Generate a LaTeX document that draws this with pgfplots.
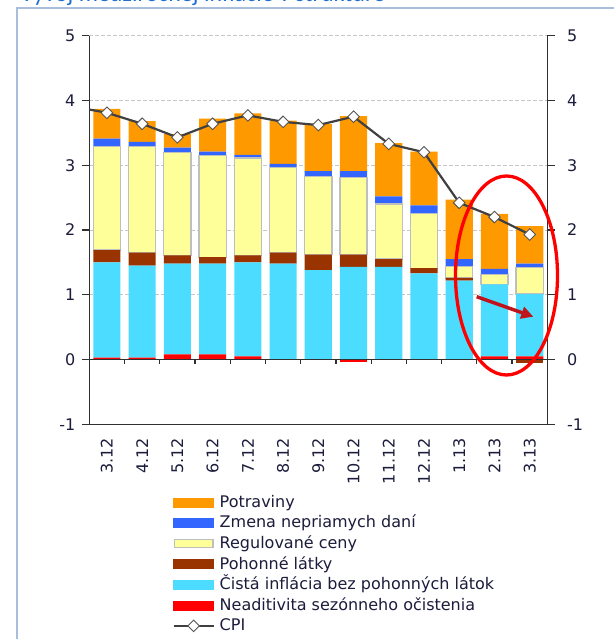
\documentclass[border=0pt]{standalone}
\usepackage{pgfplots}
\pgfplotsset{compat=1.18}
\usepackage{fontspec}
\setmainfont{DejaVu Sans}
\newfontfamily\titlefont{Carlito}
\usetikzlibrary{arrows.meta}
\definecolor{orangec}{HTML}{FF9900}
\definecolor{bluec}{HTML}{3366FF}
\definecolor{yellowc}{HTML}{FFFF99}
\definecolor{brownc}{HTML}{993300}
\definecolor{cyanc}{HTML}{4CDCFF}
\definecolor{redc}{HTML}{FF0000}
\definecolor{axc}{HTML}{303030}
\definecolor{txtc}{HTML}{1C1C3C}
\definecolor{cpic}{HTML}{404040}
\definecolor{markc}{HTML}{555555}
\definecolor{framec}{HTML}{A8BEDC}
\definecolor{titlec}{HTML}{1F6FD0}
\definecolor{arrc}{HTML}{C0141C}
\definecolor{yedge}{HTML}{BFBFBF}
\pgfplotsset{
 mybase/.style={
  at={(89.3bp,214.7bp)}, anchor=south west,
  scale only axis, width=458bp, height=388.6bp,
  xmin=-0.5, xmax=12.5, ymin=-1, ymax=5,
  ytick={-1,0,...,5}, yticklabels={-1,0,1,2,3,4,5},
  tick align=outside, major tick length=7.7bp,
  axis line style={draw=axc, line width=1.3bp},
  ytick style={draw=axc, line width=1.3bp},
  tick label style={font=\fontsize{16bp}{19bp}\selectfont, text=txtc},
  clip=false,
 }
}
\begin{document}
\begin{tikzpicture}
\useasboundingbox (0,0) rectangle (614bp,639bp);
\fill[white] (0,0) rectangle (614bp,639bp);
\draw[framec, line width=1.2bp] (17bp,0) -- (17bp,631bp) -- (614bp,631bp);
\node[anchor=base west, inner sep=0pt, text=titlec, font=\titlefont\fontsize{24bp}{28bp}\selectfont] at (20bp,637bp) {Vývoj medziročnej inflácie v štruktúre};

\begin{axis}[mybase,
  ybar stacked, bar width=0.77,
  axis x line*=bottom, axis y line*=left,
  xtick={0,...,12},
  xticklabels={3.12,4.12,5.12,6.12,7.12,8.12,9.12,10.12,11.12,12.12,1.13,2.13,3.13},
  xtick style={draw=none},
  xticklabel style={rotate=90, anchor=east, inner sep=0pt},
  xticklabel shift=6bp,
  yticklabel style={anchor=east, inner sep=0pt},
  yticklabel shift=6bp,
  ymajorgrids, grid style={dash pattern=on 3.5bp off 2.5bp, gray!45, line width=0.8bp},
]
% Neaditivita sezonneho ocistenia (positive part)
\addplot[fill=redc, draw=none] coordinates {(0,0.03) (1,0.03) (2,0.08) (3,0.08) (4,0.05) (5,0) (6,0) (7,0) (8,0) (9,0) (10,0) (11,0.05) (12,0.05)};
% Cista inflacia bez pohonnych latok
\addplot[fill=cyanc, draw=none] coordinates {(0,1.47) (1,1.42) (2,1.40) (3,1.40) (4,1.45) (5,1.48) (6,1.38) (7,1.43) (8,1.43) (9,1.33) (10,1.22) (11,1.11) (12,0.96)};
% Pohonne latky (positive part)
\addplot[fill=brownc, draw=none] coordinates {(0,0.19) (1,0.20) (2,0.13) (3,0.10) (4,0.11) (5,0.17) (6,0.24) (7,0.19) (8,0.12) (9,0.08) (10,0.04) (11,0) (12,0)};
% Regulovane ceny
\addplot[fill=yellowc, draw=yedge, line width=1.3bp] coordinates {(0,1.60) (1,1.64) (2,1.59) (3,1.57) (4,1.50) (5,1.31) (6,1.21) (7,1.19) (8,0.85) (9,0.84) (10,0.18) (11,0.15) (12,0.41)};
% Zmena nepriamych dani
\addplot[fill=bluec, draw=none] coordinates {(0,0.12) (1,0.07) (2,0.07) (3,0.06) (4,0.05) (5,0.06) (6,0.08) (7,0.10) (8,0.12) (9,0.13) (10,0.11) (11,0.09) (12,0.06)};
% Potraviny
\addplot[fill=orangec, draw=none] coordinates {(0,0.46) (1,0.32) (2,0.21) (3,0.51) (4,0.64) (5,0.67) (6,0.73) (7,0.85) (8,0.82) (9,0.83) (10,0.92) (11,0.85) (12,0.58)};
\end{axis}

\begin{axis}[mybase,
  axis x line=none, axis y line*=right,
  yticklabel style={anchor=west, inner sep=0pt},
  yticklabel shift=12bp,
  legend cell align=left,
  legend style={draw=none, fill=none, inner sep=0pt, outer sep=0pt,
    at={(0.1817,-0.1742)}, anchor=north west,
    column sep=5bp, row sep=0pt,
    font=\fontsize{16bp}{19bp}\selectfont, text=txtc,
    nodes={inner sep=0pt, text height=15.3bp, text depth=5.3bp}},
]
% negative parts
\addplot[forget plot, ybar, bar width=0.77, bar shift=0pt, fill=redc, draw=none] coordinates {(7,-0.04)};
\addplot[forget plot, ybar, bar width=0.77, bar shift=0pt, fill=brownc, draw=none] coordinates {(12,-0.06)};
% zero line with ticks
\draw[axc, line width=1.3bp] (axis cs:-0.5,0) -- (axis cs:12.5,0);
\pgfplotsinvokeforeach{-0.5,0.5,...,12.5}{\draw[axc, line width=1.3bp] (axis cs:#1,0) -- ([yshift=-4.5bp]axis cs:#1,0);}
% CPI
\addplot[forget plot, cpic, line width=2.2bp, mark=none] coordinates {(-0.5,3.86) (0,3.81) (1,3.64) (2,3.43) (3,3.64) (4,3.77) (5,3.67) (6,3.62) (7,3.75) (8,3.33) (9,3.20) (10,2.42) (11,2.20) (12,1.93)};
\addplot[forget plot, only marks, mark=square*, mark size=4.1bp, mark options={rotate=45, fill=white, draw=markc, line width=0.9bp}] coordinates {(0,3.81) (1,3.64) (2,3.43) (3,3.64) (4,3.77) (5,3.67) (6,3.62) (7,3.75) (8,3.33) (9,3.20) (10,2.42) (11,2.20) (12,1.93)};
% legend
\addlegendimage{legend image code/.code={\fill[orangec] (0bp,-4.5bp) rectangle (40bp,4.5bp);}}
\addlegendentry{Potraviny}
\addlegendimage{legend image code/.code={\fill[bluec] (0bp,-4.5bp) rectangle (40bp,4.5bp);}}
\addlegendentry{Zmena nepriamych daní}
\addlegendimage{legend image code/.code={\filldraw[fill=yellowc, draw=yedge, line width=1.2bp] (0.6bp,-3.9bp) rectangle (39.4bp,3.9bp);}}
\addlegendentry{Regulované ceny}
\addlegendimage{legend image code/.code={\fill[brownc] (0bp,-4.5bp) rectangle (40bp,4.5bp);}}
\addlegendentry{Pohonné látky}
\addlegendimage{legend image code/.code={\fill[cyanc] (0bp,-4.5bp) rectangle (40bp,4.5bp);}}
\addlegendentry{Čistá inflácia bez pohonných látok}
\addlegendimage{legend image code/.code={\fill[redc] (0bp,-4.5bp) rectangle (40bp,4.5bp);}}
\addlegendentry{Neaditivita sezónneho očistenia}
\addlegendimage{legend image code/.code={\draw[cpic, line width=2.2bp] (0bp,0bp) -- (40bp,0bp); \filldraw[fill=white, draw=markc, line width=0.9bp] (20bp,5.8bp) -- (25.8bp,0bp) -- (20bp,-5.8bp) -- (14.2bp,0bp) -- cycle;}}
\addlegendentry{CPI}
\end{axis}

\draw[redc, line width=3.3bp] (506.5bp,363.5bp) ellipse [x radius=51bp, y radius=99.5bp];
\draw[arrc, line width=3.5bp, -{Triangle[length=12bp, width=12bp]}] (476.7bp,342.3bp) -- (533.3bp,322.3bp);
\end{tikzpicture}
\end{document}
